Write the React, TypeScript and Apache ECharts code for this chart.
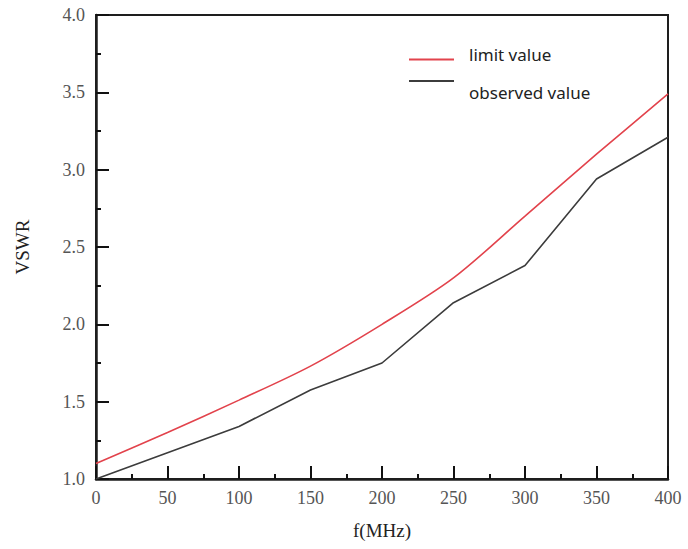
import React, { useEffect, useRef } from "react";
import * as echarts from "echarts";

const freqs = [0, 50, 100, 150, 200, 250, 300, 350, 400];
const limitValues = [1.1, 1.3, 1.51, 1.73, 2.0, 2.3, 2.7, 3.1, 3.49];
const observedValues = [1.0, 1.17, 1.34, 1.575, 1.75, 2.14, 2.38, 2.94, 3.21];
const seriesNames = ["limit value", "observed value"];

export default function App() {
  const ref = useRef<HTMLDivElement>(null);
  useEffect(() => {
    if (!ref.current) return;
    const chart = echarts.init(ref.current, null, { renderer: "svg" });
    const serif = "Liberation Serif";
    const legendText = { fontFamily: "Noto Sans", fontSize: 17, color: "#222" };
    chart.setOption({
      animation: false,
      backgroundColor: "#ffffff",
      grid: {
        left: 96,
        right: 20,
        top: 15,
        bottom: 70,
        show: true,
        borderColor: "#1e1e1e",
        borderWidth: 2,
      },
      legend: [
        {
          left: 404,
          top: 41,
          orient: "vertical",
          icon: "path://M0,0L0.01,0M0,10L45,10L45,12L0,12Z",
          itemWidth: 45,
          itemHeight: 12,
          itemStyle: { borderWidth: 0 },
          data: [seriesNames[0]],
          textStyle: { ...legendText, padding: [0, 0, 0, 10] },
        },
        {
          left: 404,
          top: 75,
          orient: "vertical",
          icon: "path://M0,0L45,0L45,2L0,2ZM0,24L0.01,24",
          itemWidth: 45,
          itemHeight: 24,
          itemStyle: { borderWidth: 0 },
          data: [seriesNames[1]],
          textStyle: { ...legendText, padding: [0, 0, 0, 10] },
        },
      ],
      xAxis: {
        type: "value",
        min: 0,
        max: 400,
        interval: 50,
        name: "f(MHz)",
        nameLocation: "middle",
        nameGap: 42,
        nameTextStyle: { fontFamily: serif, fontSize: 19, color: "#222" },
        axisLine: { show: true, lineStyle: { color: "#1e1e1e", width: 2.5 } },
        axisTick: { show: true, inside: true, length: 13, lineStyle: { color: "#111111", width: 2 } },
        minorTick: { show: true, splitNumber: 2, length: 5, lineStyle: { color: "#111111", width: 2 } },
        splitLine: { show: false },
        axisLabel: { fontFamily: serif, fontSize: 18, color: "#555", margin: 10 },
      },
      yAxis: {
        type: "value",
        min: 1.0,
        max: 4.0,
        interval: 0.5,
        name: "VSWR",
        nameLocation: "middle",
        nameGap: 64,
        nameTextStyle: { fontFamily: serif, fontSize: 19, color: "#222" },
        axisLine: { show: true, lineStyle: { color: "#1e1e1e", width: 2.5 } },
        axisTick: { show: true, inside: true, length: 13, lineStyle: { color: "#111111", width: 2 } },
        minorTick: { show: true, splitNumber: 2, length: 5, lineStyle: { color: "#111111", width: 2 } },
        splitLine: { show: false },
        axisLabel: {
          fontFamily: serif,
          fontSize: 18,
          color: "#555",
          margin: 11,
          formatter: (v: number) => v.toFixed(1),
        },
      },
      series: [
        {
          name: seriesNames[0],
          type: "line",
          data: freqs.map((f, i) => [f, limitValues[i]]),
          smooth: 0.3,
          symbol: "none",
          lineStyle: { color: "#e2434c", width: 1.6 },
          itemStyle: { color: "#e2434c" },
        },
        {
          name: seriesNames[1],
          type: "line",
          data: freqs.map((f, i) => [f, observedValues[i]]),
          symbol: "none",
          lineStyle: { color: "#3c3c3c", width: 1.6 },
          itemStyle: { color: "#3c3c3c" },
        },
      ],
    });
    return () => chart.dispose();
  }, []);
  return <div ref={ref} style={{ width: 688, height: 549, position: "absolute", left: 0, top: 0 }} />;
}
